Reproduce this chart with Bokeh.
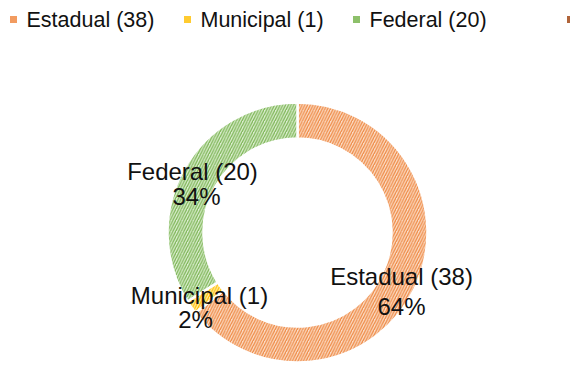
import numpy as np
from bokeh.plotting import figure
from bokeh.models import Range1d, ColumnDataSource
from bokeh.core.properties import value
from bokeh.embed import file_html
from bokeh.resources import INLINE

# ---- data ----
categories = ["Estadual", "Municipal", "Federal", "Outros"]
counts = [38, 1, 20, 0]
line_colors = ["#EE8A45", "#FFC000", "#7DB656", "#9E480E"]
pale_colors = ["#FBDCC6", "#FFEDB3", "#DCEDD0", "#E0B89C"]
legend_colors = ["#F29B60", "#FFCB30", "#8DC06A", "#B0643A"]

W, H = 570, 362
FONT = "Liberation Sans"

p = figure(width=W, height=H, output_backend="svg", toolbar_location=None,
           x_range=Range1d(0, W), y_range=Range1d(0, H), min_border=0)
p.axis.visible = False
p.grid.visible = False
p.outline_line_color = None
p.background_fill_color = "white"
p.border_fill_color = "white"

total = sum(counts)
fracs = np.array(counts, dtype=float) / total
ends = np.pi / 2 - 2 * np.pi * np.cumsum(fracs)
starts = np.concatenate([[np.pi / 2], ends[:-1]])

cx, cy = 297, 130
r_out, r_in = 130, 94

idx = [i for i, c in enumerate(counts) if c > 0]
src = ColumnDataSource(dict(
    start=[starts[i] for i in idx], end=[ends[i] for i in idx],
    fill=[pale_colors[i] for i in idx], hatch=[line_colors[i] for i in idx],
))
p.annular_wedge(x=cx, y=cy, inner_radius=r_in, outer_radius=r_out,
                start_angle="start", end_angle="end", direction="clock",
                fill_color="fill", hatch_color="hatch", hatch_pattern="/",
                hatch_scale=5.5, hatch_weight=1.3,
                line_color="white", line_width=2.5, source=src)

# data labels (layout positions)
label_pos = {
    "Estadual": [(401, 86), (401, 56)],
    "Federal": [(192, 191), (196, 166)],
    "Municipal": [(199, 67), (195, 43)],
}
for i, name in enumerate(categories):
    if counts[i] == 0 or name not in label_pos:
        continue
    pct = f"{round(counts[i] / total * 100)}%"
    lines = [f"{name} ({counts[i]})", pct]
    for (lx, ly), t in zip(label_pos[name], lines):
        p.text(x=[lx], y=[ly], text=[t], text_font=value(FONT),
               text_font_size="24px", text_align="center",
               text_baseline="middle", text_color="#111111")

# legend (layout positions)
leg_sq_x = [13, 187, 356, 570]
leg_y = 343
for i, name in enumerate(categories):
    p.scatter(x=[leg_sq_x[i]], y=[leg_y], marker="square", size=7,
              fill_color=legend_colors[i], line_color=None)
    if i < 3:
        p.text(x=[leg_sq_x[i] + 13], y=[leg_y], text=[f"{name} ({counts[i]})"],
               text_font=value(FONT), text_font_size="21.5px",
               text_align="left", text_baseline="middle", text_color="#111111")

open("out.html", "w").write(file_html(p, INLINE))
